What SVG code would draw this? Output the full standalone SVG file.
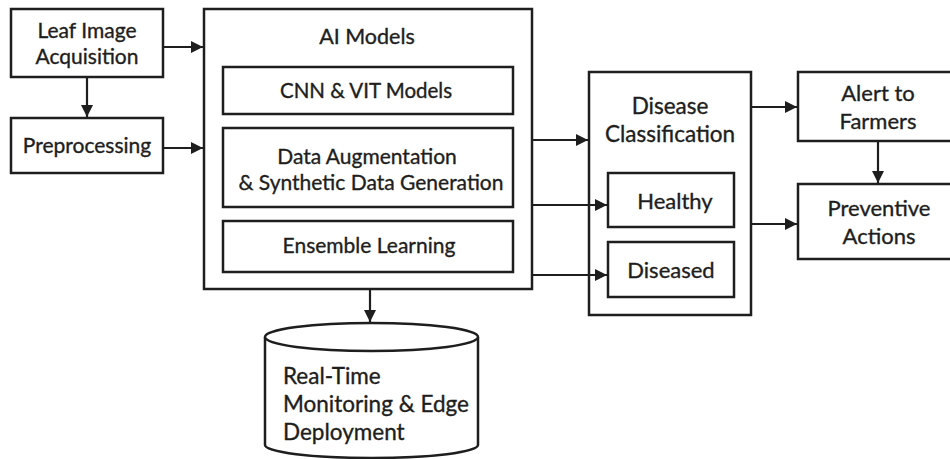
<svg xmlns="http://www.w3.org/2000/svg" width="950" height="459" viewBox="0 0 950 459">
<defs>
<style>
.box{fill:#fff;stroke:#1e1e1e;stroke-width:2.5}
.t{font-family:Lato,"Liberation Sans",sans-serif;font-size:21px;fill:#1e1e1e;text-anchor:middle;stroke:#1e1e1e;stroke-width:0.35}
.c{stroke:#1e1e1e;stroke-width:2.2;fill:none;marker-end:url(#ah)}
</style>
<marker id="ah" viewBox="0 0 10 10" refX="10" refY="5" markerWidth="5.5" markerHeight="5.5" orient="auto" markerUnits="strokeWidth">
<path d="M0,0 L10,5 L0,10 z" fill="#1e1e1e"/>
</marker>
</defs>
<rect width="950" height="459" fill="#fff"/>
<g id="leaf">
<rect class="box" x="11" y="9" width="152" height="68"/>
<text class="t" x="87" y="38">Leaf Image</text>
<text class="t" x="87" y="64">Acquisition</text>
</g>
<g id="prep">
<rect class="box" x="11" y="118" width="152" height="55"/>
<text class="t" x="87" y="153">Preprocessing</text>
</g>
<g id="ai">
<rect class="box" x="204" y="9" width="328" height="280"/>
<text class="t" x="367" y="44" style="font-size:21.5px">AI Models</text>
</g>
<g id="cnn">
<rect class="box" x="223" y="67" width="290" height="47"/>
<text class="t" x="366" y="98" style="font-size:20.5px">CNN &amp; VIT Models</text>
</g>
<g id="aug">
<rect class="box" x="223" y="128" width="290" height="79"/>
<text class="t" x="367" y="164">Data Augmentation</text>
<text class="t" x="371" y="190">&amp; Synthetic Data Generation</text>
</g>
<g id="ens">
<rect class="box" x="223" y="221" width="290" height="51"/>
<text class="t" x="369" y="253">Ensemble Learning</text>
</g>
<g id="rtm">
<path class="box" d="M265,337 L265,445 A106.5,13 0 0 0 478,445 L478,337"/>
<ellipse class="box" cx="371.5" cy="337" rx="106.5" ry="14"/>
<text class="t" x="283" y="384" style="text-anchor:start;font-size:22.5px">Real-Time</text>
<text class="t" x="283" y="412" style="text-anchor:start;font-size:22.5px">Monitoring &amp; Edge</text>
<text class="t" x="283" y="440" style="text-anchor:start;font-size:22.5px">Deployment</text>
</g>
<g id="dc">
<rect class="box" x="589" y="72" width="162" height="243"/>
<text class="t" x="670" y="114" style="font-size:22.5px">Disease</text>
<text class="t" x="670" y="142" style="font-size:22.5px">Classification</text>
</g>
<g id="healthy">
<rect class="box" x="608" y="173" width="126" height="54"/>
<text class="t" x="675" y="209" style="font-size:22px">Healthy</text>
</g>
<g id="diseased">
<rect class="box" x="608" y="242" width="126" height="55"/>
<text class="t" x="671" y="278" style="font-size:22px">Diseased</text>
</g>
<g id="alert">
<rect class="box" x="798" y="72" width="160" height="69"/>
<text class="t" x="878" y="101" style="font-size:22px">Alert to</text>
<text class="t" x="878" y="129" style="font-size:22px">Farmers</text>
</g>
<g id="prev">
<rect class="box" x="798" y="184" width="160" height="75"/>
<text class="t" x="879" y="216" style="font-size:22px">Preventive</text>
<text class="t" x="879" y="244" style="font-size:22px">Actions</text>
</g>
<g id="connectors">
<line class="c" x1="163" y1="47" x2="203" y2="47"/>
<line class="c" x1="163" y1="148" x2="203" y2="148"/>
<line class="c" x1="87" y1="77" x2="87" y2="117"/>
<line class="c" x1="370" y1="289" x2="370" y2="322"/>
<line class="c" x1="532" y1="140" x2="588" y2="140"/>
<line class="c" x1="532" y1="205" x2="607" y2="205"/>
<line class="c" x1="532" y1="275" x2="607" y2="275"/>
<line class="c" x1="751" y1="107" x2="797" y2="107"/>
<line class="c" x1="751" y1="224" x2="797" y2="224"/>
<line class="c" x1="878" y1="141" x2="878" y2="183"/>
</g>
</svg>
